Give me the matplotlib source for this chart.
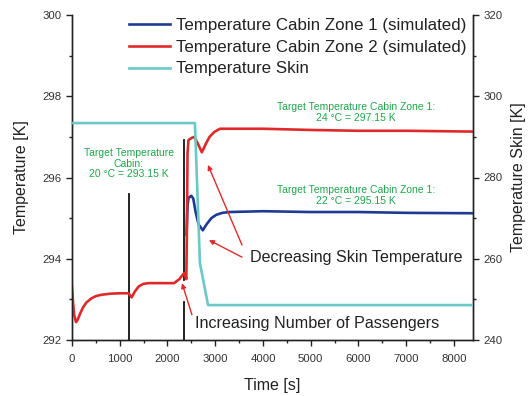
import matplotlib
matplotlib.use("Agg")
import matplotlib.pyplot as plt
from matplotlib.ticker import MultipleLocator

plt.rcParams['font.family'] = ['Liberation Sans', 'DejaVu Sans']

# Zone 2 (red) – full run
t_zone2 = [0, 20, 45, 84, 120, 170, 230, 300, 400, 500, 600, 800, 1000, 1185, 1250,
           1320, 1400, 1490, 1600, 1800, 2000, 2140, 2250, 2350, 2395, 2405, 2420,
           2440, 2500, 2560, 2630, 2720, 2800, 2880, 2980, 3100, 3300, 4000, 5000,
           6000, 7000, 8400]
T_zone2 = [293.3, 292.95, 292.62, 292.44, 292.5, 292.65, 292.8, 292.92, 293.02, 293.08,
           293.11, 293.14, 293.15, 293.15, 293.05, 293.2, 293.32, 293.38, 293.4, 293.4,
           293.4, 293.4, 293.5, 293.65, 293.5, 294.5, 296.6, 296.92, 296.97, 297.0,
           296.85, 296.62, 296.82, 297.0, 297.12, 297.2, 297.2, 297.2, 297.17,
           297.15, 297.15, 297.13]

# Zone 1 (blue) – visible part (hidden under red before ~2400 s)
t_zone1 = [2400, 2420, 2440, 2500, 2540, 2590, 2650, 2740, 2820, 2920, 3020, 3150,
           3300, 4000, 5000, 6000, 7000, 8400]
T_zone1 = [294.6, 295.3, 295.5, 295.55, 295.48, 295.15, 294.85, 294.7, 294.85, 295.0,
           295.08, 295.13, 295.15, 295.17, 295.15, 295.15, 295.13, 295.12]

# Skin temperature (right axis)
t_skin = [0, 2575, 2680, 2850, 8400]
T_skin = [293.4, 293.4, 258.9, 248.6, 248.6]

# Passenger-increase markers (time, bottom, top)
marker_t = [1185, 2350]
marker_segments = [[(292.0, 295.6)], [(292.0, 292.93), (293.47, 296.92)]]

xticks = [0, 1000, 2000, 3000, 4000, 5000, 6000, 7000, 8000]
yticks_left = [292, 294, 296, 298, 300]
yticks_right = [240, 260, 280, 300, 320]

W, H = 531, 396
fig = plt.figure(figsize=(W / 100, H / 100), dpi=100)
ax = fig.add_axes([72 / W, 1 - 340 / H, (473 - 72) / W, (340 - 15) / H])
ax2 = ax.twinx()

blue = '#1f3a93'
red = '#e02a2a'
cyan = '#6cc8c8'
green = '#1fa64a'
tc = '#333333'

for tm, segs in zip(marker_t, marker_segments):
    for lo, hi in segs:
        ax.plot([tm, tm], [lo, hi], color='#111111', lw=1.3, zorder=2)

lb, = ax.plot(t_zone1, T_zone1, color=blue, lw=1.9, zorder=3,
              label='Temperature Cabin Zone 1 (simulated)')
lr, = ax.plot(t_zone2, T_zone2, color=red, lw=1.9, zorder=4,
              label='Temperature Cabin Zone 2 (simulated)')
lc, = ax2.plot(t_skin, T_skin, color=cyan, lw=1.9, zorder=5,
               label='Temperature Skin')

ax.set_xlim(0, 8400)
ax.set_ylim(292, 300)
ax2.set_ylim(240, 320)
ax.set_xticks(xticks)
ax.set_yticks(yticks_left)
ax2.set_yticks(yticks_right)
ax.xaxis.set_minor_locator(MultipleLocator(500))
ax.yaxis.set_minor_locator(MultipleLocator(1))
ax2.yaxis.set_minor_locator(MultipleLocator(10))

for a in (ax, ax2):
    a.spines['top'].set_visible(False)
    for s in a.spines.values():
        s.set_color('#222222')
        s.set_linewidth(1.0)
    a.tick_params(which='major', direction='out', length=4, width=1, colors='#222222',
                  labelsize=8.2, labelcolor=tc)
    a.tick_params(which='minor', direction='out', length=2.5, width=1, colors='#222222')
ax.tick_params(axis='x', pad=6)

ax.set_xlabel('Time [s]', fontsize=11.5, color='#222222', labelpad=10)
ax.set_ylabel('Temperature [K]', fontsize=11.5, color='#222222', labelpad=10)
ax2.set_ylabel('Temperature Skin [K]', fontsize=11.5, color='#222222', labelpad=6)

leg = ax.legend(handles=[lb, lr, lc], loc='upper left', bbox_to_anchor=(0.125, 1.012),
                frameon=False, fontsize=12.2, handlelength=2.4, handletextpad=0.4,
                labelspacing=0.4, borderaxespad=0.0)
for txt in leg.get_texts():
    txt.set_color('#222222')

ax.text(1194, 296.34, 'Target Temperature\nCabin:\n20 °C = 293.15 K', color=green,
        fontsize=7.5, ha='center', va='center', linespacing=1.1)
ax.text(5948, 297.6, 'Target Temperature Cabin Zone 1:\n24 °C = 297.15 K', color=green,
        fontsize=7.5, ha='center', va='center', linespacing=1.1)
ax.text(5948, 295.56, 'Target Temperature Cabin Zone 1:\n22 °C = 295.15 K', color=green,
        fontsize=7.5, ha='center', va='center', linespacing=1.1)

ax.text(3728, 294.02, 'Decreasing Skin Temperature', fontsize=11.6, color='#222222',
        ha='left', va='center')
ax.text(2576, 292.4, 'Increasing Number of Passengers', fontsize=11.6, color='#222222',
        ha='left', va='center')

ap = dict(arrowstyle='-|>', color=red, lw=1.0, mutation_scale=7, shrinkA=0, shrinkB=0)
ax.annotate('', xy=(2848, 296.31), xytext=(3560, 294.34), arrowprops=ap)
ax.annotate('', xy=(2869, 294.46), xytext=(3560, 294.04), arrowprops=ap)
ax.annotate('', xy=(2304, 293.40), xytext=(2513, 292.62), arrowprops=ap)

fig.savefig('out.png', dpi=100)
